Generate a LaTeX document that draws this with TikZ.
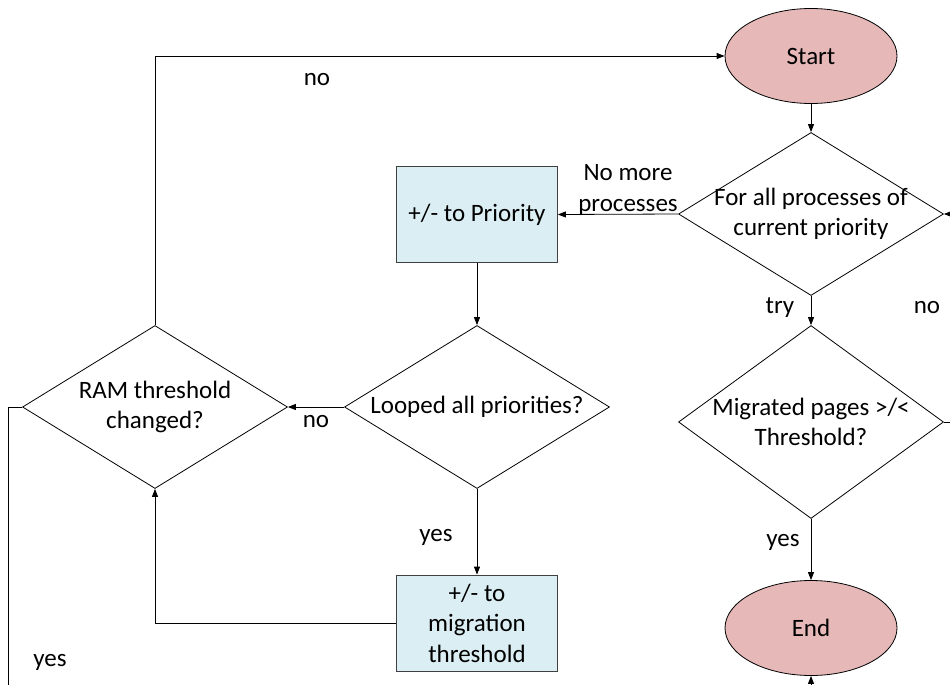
\documentclass[tikz,border=0pt]{standalone}
\usepackage{fontspec}
\setmainfont{Carlito}
\usetikzlibrary{shapes.geometric,arrows.meta}
\definecolor{termfill}{HTML}{E6B9B8}
\definecolor{procfill}{HTML}{DBEEF3}
\definecolor{boxline}{HTML}{404040}
\begin{document}
\begin{tikzpicture}[x=1pt,y=-1pt,
  font=\fontsize{25}{30.5}\selectfont,
  flow/.style={draw=black, line width=0.8pt, -{Triangle[length=8pt,width=6pt]}},
  link/.style={draw=black, line width=0.8pt},
  terminal/.style={ellipse, draw=black, line width=0.8pt, fill=termfill,
    minimum width=172, minimum height=95, inner sep=0pt},
  process/.style={rectangle, draw=boxline, line width=0.8pt, fill=procfill,
    minimum width=161, minimum height=96, inner sep=0pt, align=center},
  decision/.style={diamond, draw=black, line width=0.8pt, inner sep=0pt,
    minimum width=265, minimum height=#1},
  decision/.default=163,
  tag/.style={inner sep=0pt, align=center}]
\useasboundingbox (0,0) rectangle (950,685);
\clip (0,0) rectangle (950,685);

% terminals
\node[terminal] (start) at (811,56) {Start};
\node[terminal] (finish) at (811,628) {End};

% decisions
\node[decision, label={[tag]center:For all processes of\\current priority}] (forall) at (811,214) {};
\node[decision=193, label={[tag]center:Migrated pages >/<\\Threshold?}] (mig) at (811,422) {};
\node[decision, label={[tag]center:Looped all priorities?}] (looped) at (477,407) {};
\node[decision, label={[tag]center:RAM threshold\\changed?}] (ram) at (155,407) {};

% processes
\node[process] (prio) at (477,214.5) {+/- to Priority};
\node[process] (thr) at (477,623) {+/- to\\migration\\threshold};

% rails for the connectors that leave the frame
\coordinate (rightrail) at (975,300);
\coordinate (lowrail) at (8,720);

% connectors
\draw[flow] (start) -- (forall);
\draw[flow] (forall.west) -- (prio.east);
\draw[flow] (forall.south) -- (mig.north);
\draw[flow] (mig.south) -- (finish.north);
\draw[flow] (mig.east) -| (rightrail) |- (forall.east);
\draw[flow] (prio.south) -- (looped.north);
\draw[flow] (looped.west) -- (ram.east);
\draw[flow] (looped.south) -- (thr.north);
\draw[flow] (thr.west) -| (ram.south);
\draw[flow] (ram.north) |- (start.west);
\draw[flow] (ram.west) -| (lowrail) -| (finish.south);

% connector labels
\node[tag] (lblnotop) at (317,80) {no};
\node[tag] (lblnomore) at (628,190) {No more\\processes};
\node[tag] (lbltry) at (780,308) {try};
\node[tag] (lblnoright) at (927,308) {no};
\node[tag] (lblnoleft) at (316,422) {no};
\node[tag] (lblyesmid) at (436,537) {yes};
\node[tag] (lblyesright) at (783,542) {yes};
\node[tag] (lblyesleft) at (50,662) {yes};
\end{tikzpicture}
\end{document}
